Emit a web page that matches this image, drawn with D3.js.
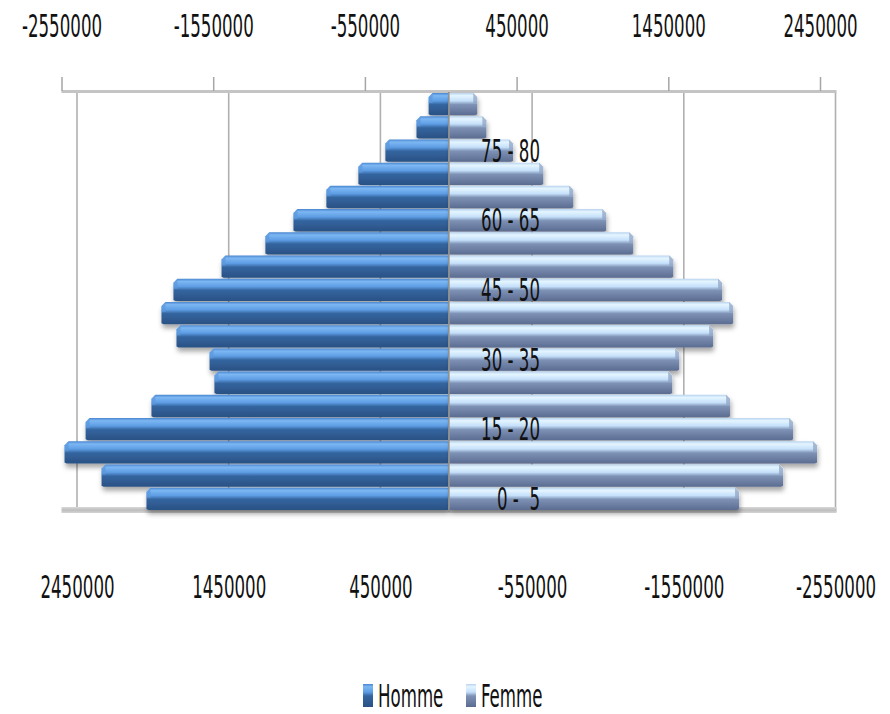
<!DOCTYPE html>
<html>
<head>
<meta charset="utf-8">
<script src="https://cdn.jsdelivr.net/npm/d3@7"></script>
<style>
	body { margin: 0; background: #fff; }
	text { font-family: "Liberation Sans Narrow", "DejaVu Sans Condensed", "Liberation Sans", sans-serif; fill: #111; white-space: pre; }
</style>
</head>
<body>
<svg id="chart" width="890" height="714"></svg>
<script>
// Age groups, bottom to top
const ages = ["0 -  5", "5 - 10", "10 - 15", "15 - 20", "20 - 25", "25 - 30", "30 - 35", "35 - 40",
	"40 - 45", "45 - 50", "50 - 55", "55 - 60", "60 - 65", "65 - 70", "70 - 75", "75 - 80", "80 - 85", "85 - 90"]
const homme = [1990000, 2286000, 2530000, 2391000, 1957000, 1542000, 1574000, 1792000, 1891000,
	1812000, 1495000, 1206000, 1021000, 804000, 593000, 415000, 210000, 130000]
const femme = [1910000, 2200000, 2424000, 2266000, 1851000, 1469000, 1515000, 1739000, 1871000,
	1798000, 1476000, 1212000, 1034000, 817000, 619000, 420000, 244000, 184000]
const topTicks = [-2550000, -1550000, -550000, 450000, 1450000, 2450000]
const bottomTicks = [2450000, 1450000, 450000, -550000, -1550000, -2550000]
const shownAges = ["0 -  5", "15 - 20", "30 - 35", "45 - 50", "60 - 65", "75 - 80"]
const series = ["Homme", "Femme"]

const svg = d3.select("#chart")
const depth = 15.5 // 3D offset of the back wall
const plotTop = 92, floor = 510
const fontSize = 18.5
const textScale = 1.75

// front plane scale (top axis) and back wall scale (bottom axis, reversed)
const x = d3.scaleLinear().domain([-2550000, 2450000]).range([61.5, 820])
const xBack = d3.scaleLinear().domain([2450000, -2550000]).range([61.5 + depth, 820 + depth])
const y = d3.scaleBand().domain(ages).range([floor, plotTop + 1]).paddingInner(0.04)
const fmt = d => `${d}`

const defs = svg.append("defs")

function gradient(id, stops) {
	let g = defs.append("linearGradient")
		.attr("id", id)
		.attr("x1", 0).attr("x2", 0).attr("y1", 0).attr("y2", 1)
	g.selectAll("stop")
		.data(stops)
		.join("stop")
		.attr("offset", d => d[0])
		.attr("stop-color", d => d[1])
}
gradient("gHomme", [["0%", "#4a86cf"], ["12%", "#7cb7f3"], ["35%", "#5e9de4"], ["52%", "#34659f"], ["100%", "#2a5184"]])
gradient("gFemme", [["0%", "#b9d4ef"], ["12%", "#e4f5ff"], ["35%", "#c5e0fa"], ["52%", "#7e92b5"], ["100%", "#5b6c91"]])
gradient("gFloor", [["0%", "#d9d9d9"], ["50%", "#bdbdbd"], ["100%", "#d4d4d4"]])

let shadow = defs.append("filter")
	.attr("id", "shadow")
	.attr("x", "-10%").attr("y", "-20%").attr("width", "120%").attr("height", "160%")
shadow.append("feDropShadow")
	.attr("dx", 1).attr("dy", 4)
	.attr("stdDeviation", 2.5)
	.attr("flood-color", "#000")
	.attr("flood-opacity", 0.35)

// Back wall gridlines
svg.append("g")
	.selectAll("line")
	.data(bottomTicks)
	.join("line")
	.attr("x1", d => xBack(d)).attr("x2", d => xBack(d))
	.attr("y1", plotTop).attr("y2", floor + 2)
	.attr("stroke", "#b0b0b0")
	.attr("stroke-width", 1.6)

// Floor and top edge
svg.append("rect")
	.attr("x", x(-2550000)).attr("y", floor - 3)
	.attr("width", xBack(-2550000) - x(-2550000) + 1).attr("height", 6)
	.attr("fill", "url(#gFloor)")
svg.append("rect")
	.attr("x", x(-2550000)).attr("y", plotTop - 2)
	.attr("width", xBack(-2550000) - x(-2550000) + 1).attr("height", 3)
	.attr("fill", "#c4c4c4")

// Top axis
let axisTop = svg.append("g")
	.attr("transform", `translate(0, ${plotTop - 1})`)
	.call(d3.axisTop(x).tickValues(topTicks).tickSize(14).tickFormat(fmt))
axisTop.select(".domain").remove()
axisTop.selectAll(".tick line").attr("stroke", "#a6a6a6").attr("stroke-width", 1.5)
axisTop.selectAll(".tick text")
	.attr("y", null).attr("dy", null)
	.attr("font-size", fontSize)
	.attr("transform", `translate(0, ${37 - plotTop + 1}) scale(1, ${textScale})`)

// Bottom axis labels (on back wall)
let axisBottom = svg.append("g")
	.attr("transform", `translate(0, 598)`)
	.call(d3.axisBottom(xBack).tickValues(bottomTicks).tickSize(0).tickFormat(fmt))
axisBottom.select(".domain").remove()
axisBottom.selectAll(".tick text")
	.attr("y", null).attr("dy", null)
	.attr("font-size", fontSize)
	.attr("transform", `scale(1, ${textScale})`)

// Bars
const rows = ages.map((a, i) => ({ age: a, homme: homme[i], femme: femme[i] }))
const cap = 4

function barPath(x0, x1, y0, h) {
	// bar with a bevelled outer end
	let dir = x1 < x0 ? -1 : 1
	return `M${x0},${y0} L${x1 - dir * cap},${y0} L${x1},${y0 + cap} L${x1},${y0 + h - 1} L${x1 - dir * 2},${y0 + h} L${x0},${y0 + h} Z`
}
function capPath(x1, y0, h, dir) {
	return `M${x1 - dir * cap},${y0} L${x1},${y0 + cap} L${x1},${y0 + h * 0.45} L${x1 - dir * cap},${y0 + h * 0.45} Z`
}

let gHomme = svg.append("g").attr("filter", "url(#shadow)")
gHomme.selectAll("path.bar")
	.data(rows)
	.join("path")
	.attr("class", "bar")
	.attr("d", d => barPath(x(0), x(-d.homme), y(d.age), y.bandwidth()))
	.attr("fill", "url(#gHomme)")
gHomme.selectAll("path.cap")
	.data(rows)
	.join("path")
	.attr("class", "cap")
	.attr("d", d => capPath(x(-d.homme), y(d.age), y.bandwidth(), -1))
	.attr("fill", "#5d97dc")
	.attr("opacity", 0.7)

let gFemme = svg.append("g").attr("filter", "url(#shadow)")
gFemme.selectAll("path.bar")
	.data(rows)
	.join("path")
	.attr("class", "bar")
	.attr("d", d => barPath(x(0) + 1, x(0) + 1 + (x(d.femme) - x(0)), y(d.age), y.bandwidth()))
	.attr("fill", "url(#gFemme)")
gFemme.selectAll("path.cap")
	.data(rows)
	.join("path")
	.attr("class", "cap")
	.attr("d", d => capPath(x(0) + 1 + (x(d.femme) - x(0)), y(d.age), y.bandwidth(), 1))
	.attr("fill", "#8d9fc0")
	.attr("opacity", 0.7)

// Vertical category axis at zero
svg.append("line")
	.attr("x1", x(0) + 0.5).attr("x2", x(0) + 0.5)
	.attr("y1", plotTop).attr("y2", floor + 2)
	.attr("stroke", "#8c8c8c")
	.attr("stroke-width", 1.5)

// Age labels, every third group
svg.append("g")
	.selectAll("text")
	.data(shownAges)
	.join("text")
	.attr("text-anchor", "end")
	.attr("font-size", fontSize)
	.attr("transform", d => `translate(540, ${y(d) + y.bandwidth() / 2 + 11}) scale(1, ${textScale})`)
	.text(d => d)

// Legend
let legend = svg.append("g")
	.selectAll("g")
	.data(series)
	.join("g")
	.attr("transform", (d, i) => `translate(${363 + i * 103}, 0)`)
legend.append("rect")
	.attr("x", 0).attr("y", 684)
	.attr("width", 10).attr("height", 23)
	.attr("fill", d => d === "Homme" ? "url(#gHomme)" : "url(#gFemme)")
legend.append("text")
	.attr("font-size", fontSize)
	.attr("transform", `translate(15, 707) scale(1, ${textScale})`)
	.text(d => d)
</script>
</body>
</html>
